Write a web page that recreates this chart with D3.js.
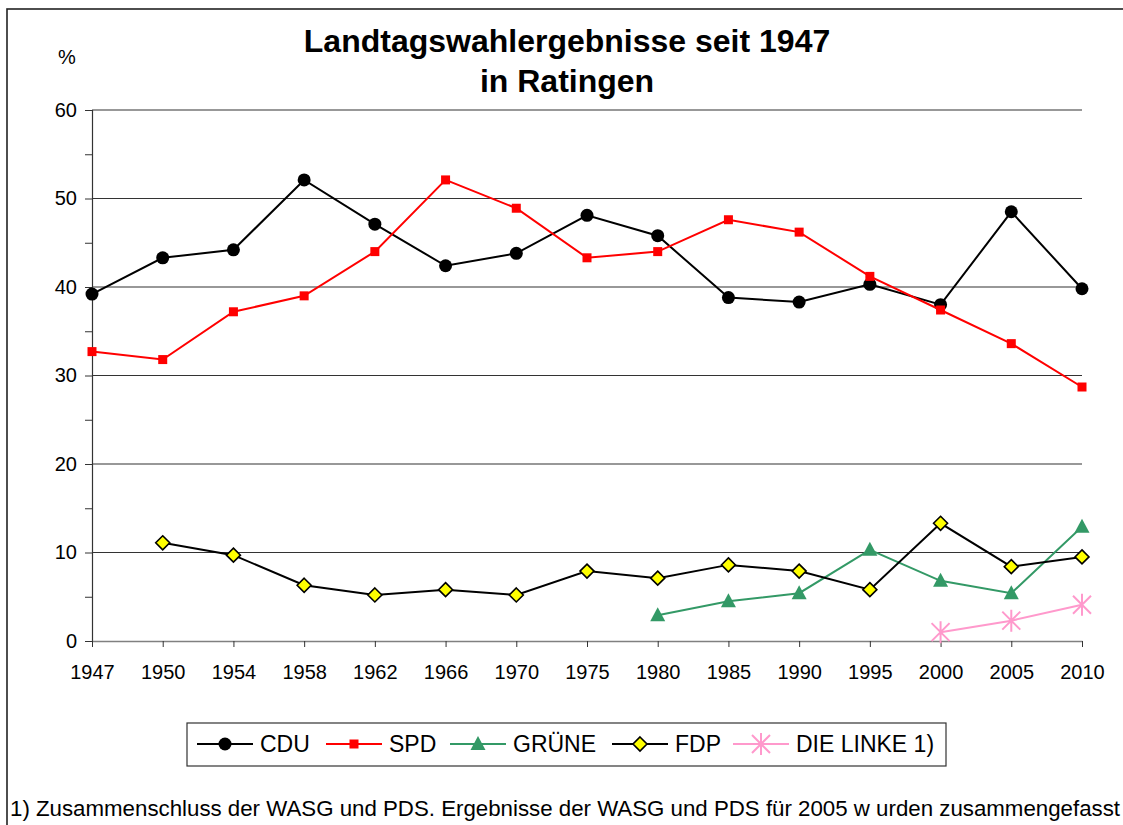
<!DOCTYPE html>
<html>
<head>
<meta charset="utf-8">
<script src="https://cdn.jsdelivr.net/npm/d3@7"></script>
<style>
  body { margin: 0; background: #fff; }
  svg { display: block; font-family: "Liberation Sans", Arial, sans-serif; }
</style>
</head>
<body>
<script>
// Data
const years = ['1947', '1950', '1954', '1958', '1962', '1966', '1970', '1975',
               '1980', '1985', '1990', '1995', '2000', '2005', '2010'];
const cdu   = [39.2, 43.3, 44.2, 52.1, 47.1, 42.4, 43.8, 48.1, 45.8, 38.8, 38.3, 40.3, 38.0, 48.5, 39.8];
const spd   = [32.7, 31.8, 37.2, 39.0, 44.0, 52.1, 48.9, 43.3, 44.0, 47.6, 46.2, 41.2, 37.4, 33.6, 28.7];
const gruene = [null, null, null, null, null, null, null, null, 2.9, 4.5, 5.4, 10.3, 6.8, 5.4, 12.9];
const fdp   = [null, 11.1, 9.7, 6.3, 5.2, 5.8, 5.2, 7.9, 7.1, 8.6, 7.9, 5.8, 13.3, 8.4, 9.5];
const linke = [null, null, null, null, null, null, null, null, null, null, null, null, 1.0, 2.3, 4.1];
const yTicks = [0, 10, 20, 30, 40, 50, 60];

const series = [
  { name: 'CDU', values: cdu, color: '#000', marker: 'circle' },
  { name: 'SPD', values: spd, color: '#ff0000', marker: 'square' },
  { name: 'GRÜNE', values: gruene, color: '#339966', marker: 'triangle' },
  { name: 'FDP', values: fdp, color: '#000', marker: 'diamond' },
  { name: 'DIE LINKE 1)', values: linke, color: '#ff99cc', marker: 'asterisk' }
];

const W = 1123, H = 825;
const font = '"Liberation Sans", Arial, sans-serif';
const svg = d3.select('body').append('svg').attr('width', W).attr('height', H);

// outer frame (only top and left visible in the reference)
svg.append('rect').attr('x', 7).attr('y', 9).attr('width', W + 10).attr('height', H + 10)
  .attr('fill', 'none').attr('stroke', '#222').attr('stroke-width', 1.6);

const x = d3.scalePoint().domain(years).range([92, 1082]);
const y = d3.scaleLinear().domain([0, 60]).range([641, 110]);

// title
const title = svg.append('text').attr('text-anchor', 'middle')
  .attr('font-size', 32).attr('font-weight', 'bold').attr('fill', '#000');
title.append('tspan').attr('x', 567).attr('y', 52).text('Landtagswahlergebnisse seit 1947');
title.append('tspan').attr('x', 567).attr('y', 92).text('in Ratingen');

svg.append('text').attr('x', 67).attr('y', 64).attr('text-anchor', 'middle')
  .attr('font-size', 20).text('%');

// gridlines
svg.append('g').selectAll('line').data(yTicks.filter(d => d > 0)).join('line')
  .attr('x1', 92).attr('x2', 1082)
  .attr('y1', d => y(d)).attr('y2', d => y(d))
  .attr('stroke', '#333').attr('stroke-width', 1.2);

// y axis
const yAxis = svg.append('g').attr('transform', 'translate(92,0)')
  .call(d3.axisLeft(y).tickValues(d3.range(0, 61, 5)).tickSize(7).tickFormat(d => yTicks.includes(d) ? d : ''));
yAxis.select('.domain').attr('stroke', '#333').attr('stroke-width', 1.2);
yAxis.selectAll('.tick line').attr('stroke', '#333');
yAxis.selectAll('.tick text').attr('font-size', 20).attr('font-family', font)
  .attr('fill', '#000').attr('x', -15);

// x axis
const xAxis = svg.append('g').attr('transform', `translate(0,${y(0)})`)
  .call(d3.axisBottom(x).tickSize(6).tickSizeOuter(0));
xAxis.select('.domain').attr('stroke', '#808080').attr('stroke-width', 1.6);
xAxis.selectAll('.tick line').attr('stroke', '#333');
xAxis.selectAll('.tick text').attr('font-size', 20).attr('font-family', font)
  .attr('fill', '#000').attr('y', 24);

// marker drawing
function drawMarker(g, type, color) {
  if (type === 'circle') {
    g.append('circle').attr('r', 6.5).attr('fill', '#000');
  } else if (type === 'square') {
    g.append('rect').attr('x', -4.5).attr('y', -4.5).attr('width', 9).attr('height', 9).attr('fill', color);
  } else if (type === 'triangle') {
    g.append('path').attr('d', 'M0,-8 L7.5,6 L-7.5,6 Z').attr('fill', color);
  } else if (type === 'diamond') {
    g.append('path').attr('d', 'M0,-7 L7,0 L0,7 L-7,0 Z')
      .attr('fill', '#ffff00').attr('stroke', '#000').attr('stroke-width', 1.6);
  } else if (type === 'asterisk') {
    g.append('path').attr('d', 'M-9,-9 L9,9 M-9,9 L9,-9 M0,-11 L0,11')
      .attr('stroke', color).attr('stroke-width', 2);
  }
}

const line = d3.line()
  .defined(d => d.v != null)
  .x(d => x(d.year))
  .y(d => y(d.v));

series.forEach(s => {
  const pts = years.map((yr, i) => ({ year: yr, v: s.values[i] }));
  svg.append('path').datum(pts)
    .attr('d', line)
    .attr('fill', 'none').attr('stroke', s.color).attr('stroke-width', 2);
  svg.append('g').selectAll('g').data(pts.filter(d => d.v != null)).join('g')
    .attr('transform', d => `translate(${x(d.year)},${y(d.v)})`)
    .each(function() { drawMarker(d3.select(this), s.marker, s.color); });
});

// legend
const legendX = [197, 326, 450, 612, 733];
svg.append('rect').attr('x', 187).attr('y', 723).attr('width', 759).attr('height', 43)
  .attr('fill', '#fff').attr('stroke', '#333').attr('stroke-width', 1.2);
const legend = svg.append('g').selectAll('g').data(series).join('g')
  .attr('transform', (d, i) => `translate(${legendX[i]},744)`);
legend.append('line').attr('x1', 0).attr('x2', 56)
  .attr('stroke', d => d.color).attr('stroke-width', 2);
legend.each(function(d) {
  const g = d3.select(this).append('g').attr('transform', 'translate(28,0)');
  drawMarker(g, d.marker, d.color);
});
legend.append('text').attr('x', 63).attr('y', 8).attr('font-size', 23).text(d => d.name);

// footnote
svg.append('text').attr('x', 10).attr('y', 816).attr('font-size', 22)
  .attr('textLength', 1110).attr('lengthAdjust', 'spacingAndGlyphs')
  .text('1) Zusammenschluss der WASG und PDS. Ergebnisse der WASG und PDS für 2005 w urden zusammengefasst');
</script>
</body>
</html>
